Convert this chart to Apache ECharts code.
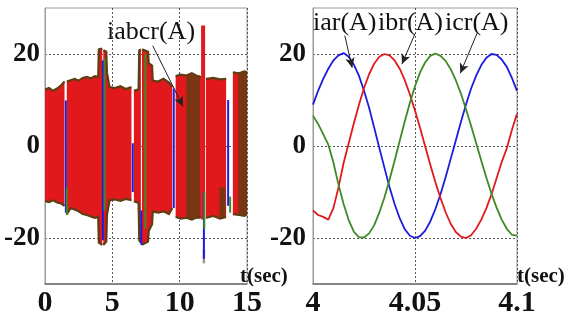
<!DOCTYPE html>
<html>
<head>
<meta charset="utf-8">
<script src="https://cdn.jsdelivr.net/npm/echarts@6/dist/echarts.min.js"></script>
<style>
html, body { margin: 0; padding: 0; background: #fff; }
#chart { width: 569px; height: 320px; }
</style>
</head>
<body>
<div id="chart"></div>
<script>
// ---- Left panel: rectifier currents iabcr over 0..15 s (envelope of the fast oscillation) ----
// null in envHi breaks the band (short gaps between bursts)
const envT  = [0.00, 0.30, 0.60, 0.90, 1.20, 1.45, 1.46,
               1.62, 1.90, 2.20, 2.50, 2.80, 3.10, 3.40, 3.70, 3.95, 4.00, 4.25, 4.26,
               4.33, 4.55, 4.60, 4.75, 4.80, 5.20, 5.60, 6.00, 6.42, 6.43,
               6.60, 6.95, 7.00, 7.12, 7.13,
               7.20, 7.65, 7.70, 7.95, 8.00, 8.40, 8.80, 9.20, 9.45, 9.46,
               9.70, 10.10, 10.50, 10.90, 11.30, 11.62, 11.63,
               11.95, 12.00, 12.50, 13.00, 13.45, 13.46,
               13.95, 14.40, 14.80, 15.00];
const envHi = [12.3, 12.6, 12.0, 12.5, 13.2, 14.0, null,
               14.0, 14.3, 14.6, 14.2, 14.8, 15.0, 14.7, 15.2, 15.0, 21.0, 21.2, null,
               20.8, 20.5, 16.0, 13.5, 12.8, 12.6, 13.0, 12.4, 12.8, null,
               12.0, 12.3, 20.8, 21.0, null,
               21.0, 20.5, 18.0, 17.5, 14.2, 14.0, 14.6, 13.8, 12.8, null,
               15.2, 15.5, 15.3, 15.8, 15.2, 15.0, null,
               14.6, 14.6, 14.8, 14.5, 14.6, null,
               16.0, 15.8, 16.2, 16.0];
const envLo = [-12.0, -12.2, -11.8, -12.3, -12.5, -13.0, null,
               -14.8, -13.5, -13.8, -14.2, -14.8, -15.0, -15.3, -15.6, -15.4, -21.0, -21.5, null,
               -21.5, -20.8, -15.0, -12.5, -11.8, -11.6, -11.9, -11.5, -11.8, null,
               -12.0, -12.4, -20.5, -21.0, null,
               -21.5, -20.8, -18.5, -17.0, -14.2, -14.5, -14.2, -14.8, -13.5, null,
               -15.4, -15.8, -15.6, -16.0, -15.5, -15.5, null,
               -15.6, -15.6, -15.2, -15.8, -15.4, null,
               -14.8, -15.0, -15.2, -14.8];

// darker (brown) phase dominating some stretches: [from, to, high, low]
const brownFrom = [10.50, 14.35, 12.95];
const brownTo   = [11.50, 15.00, 13.40];
const brownHigh = [15.4, 16.0, -9.0];
const brownLow  = [-15.8, -14.9, -15.6];

// transient excursions of the individual phases: [time, high, low]
const redSpikes   = [[11.74, 26.2, -16.0]];
const blueSpikes  = [[1.55, 9.9, -14.5], [4.30, 18.6, -20.5], [6.52, 0.6, -10.0],
                     [7.15, -14.0, -21.5], [9.56, 12.5, -13.5], [11.80, -10.0, -24.5],
                     [13.60, 10.0, -13.0]];
const greenSpikes = [[1.62, -9.0, -15.0], [4.42, 19.0, -14.0], [7.45, 20.0, -18.0],
                     [11.83, -10.0, -18.0], [13.75, -11.0, -14.5]];
const greySpikes  = [[11.80, -22.5, -25.5]];

// ---- Right panel: the three rectifier phase currents around t = 4 s ----
const rightT = [4.0000, 4.0025, 4.0050, 4.0075, 4.0100, 4.0125, 4.0150, 4.0175, 4.0200, 4.0225,
                4.0250, 4.0275, 4.0300, 4.0325, 4.0350, 4.0375, 4.0400, 4.0425, 4.0450, 4.0475,
                4.0500, 4.0525, 4.0550, 4.0575, 4.0600, 4.0625, 4.0650, 4.0675, 4.0700, 4.0725,
                4.0750, 4.0775, 4.0800, 4.0825, 4.0850, 4.0875, 4.0900, 4.0925, 4.0950, 4.0975,
                4.1000];
const iar = [9.0, 12.0, 14.6, 16.8, 18.6, 19.7, 20.2, 19.4, 17.7, 15.3,
             12.0, 8.3, 4.0, -0.4, -4.7, -8.9, -12.6, -15.7, -18.1, -19.5,
             -20.0, -19.6, -18.4, -16.4, -13.7, -10.5, -6.8, -2.8, 1.2, 5.2,
             9.0, 12.5, 15.3, 17.6, 19.2, 20.0, 19.8, 18.8, 17.2, 14.8,
             12.0];
const ibr = [-14.0, -15.0, -15.4, -16.0, -13.5, -9.0, -3.7, 0.6, 4.9, 8.9,
             12.6, 15.6, 17.9, 19.4, 20.0, 19.7, 18.6, 16.8, 14.3, 11.2,
             7.7, 3.9, -0.1, -4.1, -7.9, -11.3, -14.4, -16.9, -18.7, -19.7,
             -20.0, -19.4, -18.0, -16.0, -13.5, -10.5, -7.0, -3.5, -0.5, 3.5,
             7.0];
const icr = [6.6, 4.8, 2.6, 0.3, -3.6, -8.4, -12.6, -16.1, -18.6, -19.8,
             -19.9, -19.0, -17.2, -14.5, -11.2, -7.4, -3.2, 1.1, 5.4, 9.4,
             13.0, 16.0, 18.2, 19.6, 20.1, 19.6, 18.5, 16.7, 14.3, 11.4,
             8.0, 4.4, 0.6, -3.2, -6.9, -10.4, -13.4, -16.0, -18.0, -19.3,
             -19.5];

const yTicks = [-20, 0, 20];
const leftXTicks = [0, 5, 10, 15];
const rightXTicks = [4, 4.05, 4.1];

// ---------------------------------------------------------------
const SERIF = '"Liberation Serif", "DejaVu Serif", serif';
const RED = '#e2191c', BROWN = '#5e3d12', BLUE = '#1c1ce0', GREEN = '#3f8a26', GREY = '#9a9a8a';

// one item per continuous burst: [tStart, tEnd, firstIndex, lastIndex]
const bursts = [];
let first = 0;
for (let i = 0; i <= envT.length; i++) {
  if (i === envT.length || envHi[i] == null) {
    if (i - 1 > first) bursts.push([envT[first], envT[i - 1], first, i - 1]);
    first = i + 1;
  }
}

function burstRender(params, api) {
  const i0 = api.value(2), i1 = api.value(3);
  const top = [], bottom = [];
  for (let i = i0; i <= i1; i++) {
    top.push(api.coord([envT[i], envHi[i]]));
    bottom.push(api.coord([envT[i], envLo[i]]));
  }
  const outline = top.concat(bottom.slice().reverse());
  return {
    type: 'group',
    children: [
      { type: 'polygon', shape: { points: outline }, style: { fill: RED } },
      { type: 'polyline', shape: { points: top }, style: { stroke: BROWN, lineWidth: 2.2, fill: 'none' } },
      { type: 'polyline', shape: { points: bottom }, style: { stroke: BROWN, lineWidth: 2.2, fill: 'none' } }
    ]
  };
}

function blockRender(params, api) {
  const p = api.coord([api.value(0), api.value(2)]);
  const q = api.coord([api.value(1), api.value(3)]);
  return { type: 'rect', shape: { x: p[0], y: p[1], width: q[0] - p[0], height: q[1] - p[1] },
           style: { fill: BROWN, opacity: 0.8 } };
}

function spikeRender(color, width) {
  return function (params, api) {
    const p = api.coord([api.value(0), api.value(1)]);
    const q = api.coord([api.value(0), api.value(2)]);
    return { type: 'line', shape: { x1: p[0], y1: p[1], x2: q[0], y2: q[1] },
             style: { stroke: color, lineWidth: width } };
  };
}

function spikeSeries(data, color, width, z) {
  return { type: 'custom', xAxisIndex: 0, yAxisIndex: 0, data: data, z: z, clip: true,
           encode: { x: 0, y: [1, 2] }, renderItem: spikeRender(color, width) };
}

function makeYAxis(gridIndex, margin) {
  return {
    type: 'value', gridIndex: gridIndex, min: -30, max: 30, interval: 10,
    axisLine: { show: true, lineStyle: { color: '#9a9a9a', width: 1 } },
    axisTick: { show: false },
    axisLabel: {
      margin: margin, fontFamily: SERIF, fontWeight: 'bold', fontSize: 27, color: '#111',
      formatter: v => (yTicks.indexOf(v) >= 0 ? String(v) : '')
    },
    splitLine: { show: true,
      lineStyle: { type: [2, 2], width: 1,
                   color: ['rgba(0,0,0,0)', '#555', 'rgba(0,0,0,0)', '#555', 'rgba(0,0,0,0)', '#555', 'rgba(0,0,0,0)'] } }
  };
}

function makeXAxis(gridIndex, min, max, interval, ticks) {
  return {
    type: 'value', gridIndex: gridIndex, min: min, max: max, interval: interval,
    axisLine: { show: true, onZero: false, lineStyle: { color: '#6e6e6e', width: 1.5 } },
    axisTick: { show: false },
    axisLabel: {
      margin: 4, fontFamily: SERIF, fontWeight: 'bold', fontSize: 30, color: '#111',
      formatter: v => {
        const t = ticks.find(k => Math.abs(k - v) < interval * 1e-3);
        return t === undefined ? '' : String(t);
      }
    },
    splitLine: { show: true, lineStyle: { type: [2, 2], color: '#555', width: 1 } }
  };
}

const arrowStyle = { color: '#222', width: 1, type: 'solid' };

const option = {
  animation: false,
  backgroundColor: '#fff',
  grid: [
    { left: 45, top: 8, width: 202, height: 276, show: true, borderColor: '#9a9a9a', borderWidth: 1 },
    { left: 313, top: 8, width: 204, height: 276, show: true, borderColor: '#9a9a9a', borderWidth: 1 }
  ],
  xAxis: [
    makeXAxis(0, 0, 15, 5, leftXTicks),
    makeXAxis(1, 4, 4.1, 0.05, rightXTicks)
  ],
  yAxis: [makeYAxis(0, 5), makeYAxis(1, 7)],
  series: [
    { type: 'custom', xAxisIndex: 0, yAxisIndex: 0, data: bursts, z: 2, clip: true,
      encode: { x: [0, 1] }, renderItem: burstRender },
    { type: 'custom', xAxisIndex: 0, yAxisIndex: 0, z: 3, clip: true,
      data: brownFrom.map((f, i) => [f, brownTo[i], brownHigh[i], brownLow[i]]),
      encode: { x: [0, 1], y: [2, 3] }, renderItem: blockRender },
    spikeSeries(redSpikes, RED, 4, 4),
    spikeSeries(greySpikes, GREY, 2.5, 4),
    spikeSeries(blueSpikes, BLUE, 2, 5),
    spikeSeries(greenSpikes, GREEN, 2, 5),
    { type: 'line', xAxisIndex: 0, yAxisIndex: 0, data: [], z: 10, silent: true,
      markLine: { silent: true, symbol: ['none', 'arrow'], symbolSize: [7, 10],
        label: { show: false }, lineStyle: arrowStyle,
        data: [[{ coord: [8.0, 21.8] }, { coord: [10.25, 8.6] }]] } },
    { name: 'iar', type: 'line', xAxisIndex: 1, yAxisIndex: 1, symbol: 'none', z: 4,
      data: rightT.map((t, i) => [t, iar[i]]), lineStyle: { color: BLUE, width: 1.8 } },
    { name: 'ibr', type: 'line', xAxisIndex: 1, yAxisIndex: 1, symbol: 'none', z: 4,
      data: rightT.map((t, i) => [t, ibr[i]]), lineStyle: { color: RED, width: 1.8 } },
    { name: 'icr', type: 'line', xAxisIndex: 1, yAxisIndex: 1, symbol: 'none', z: 4,
      data: rightT.map((t, i) => [t, icr[i]]), lineStyle: { color: GREEN, width: 1.8 } },
    { type: 'line', xAxisIndex: 1, yAxisIndex: 1, data: [], z: 10, silent: true,
      markLine: { silent: true, symbol: ['none', 'arrow'], symbolSize: [7, 10],
        label: { show: false }, lineStyle: arrowStyle,
        data: [
          [{ coord: [4.0156, 24.0] }, { coord: [4.0192, 17.0] }],
          [{ coord: [4.0500, 24.4] }, { coord: [4.0436, 17.8] }],
          [{ coord: [4.0805, 24.6] }, { coord: [4.0722, 15.8] }]
        ] } }
  ],
  graphic: [
    { type: 'text', left: 107, top: 19, z: 20,
      style: { text: 'iabcr(A)', font: '26px ' + SERIF, fill: '#111' } },
    { type: 'text', left: 313, top: 10, z: 20,
      style: { text: 'iar(A)', font: '26px ' + SERIF, fill: '#111' } },
    { type: 'text', left: 378, top: 10, z: 20,
      style: { text: 'ibr(A)', font: '26px ' + SERIF, fill: '#111' } },
    { type: 'text', left: 445, top: 10, z: 20,
      style: { text: 'icr(A)', font: '26px ' + SERIF, fill: '#111' } },
    { type: 'text', left: 240, top: 266, z: 20,
      style: { text: 't(sec)', font: 'bold 21px ' + SERIF, fill: '#111' } },
    { type: 'text', left: 517, top: 266, z: 20,
      style: { text: 't(sec)', font: 'bold 21px ' + SERIF, fill: '#111' } }
  ]
};

const chart = echarts.init(document.getElementById('chart'), null, { renderer: 'canvas' });
chart.setOption(option);
</script>
</body>
</html>
